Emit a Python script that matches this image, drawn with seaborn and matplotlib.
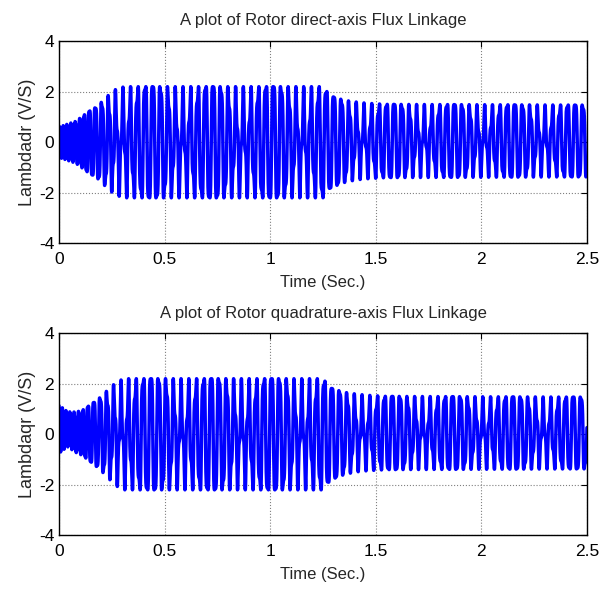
import numpy as np
import seaborn as sns
import matplotlib.pyplot as plt
from matplotlib.ticker import FormatStrFormatter

# carrier frequency read from the peak spacing (Hz)
freq_t = [0.0, 0.02, 0.05, 0.10, 0.15, 0.20, 0.27, 0.40, 2.50]
freq_hz = [64, 62, 52, 46, 36, 32, 29, 28, 28]

# envelope of the d-axis trace
amp_d_t = [0.0, 0.08, 0.14, 0.18, 0.21, 0.24, 0.27, 0.31, 1.25, 1.285, 1.315, 1.35, 1.40, 1.45, 1.55, 2.50]
amp_d = [0.60, 0.83, 1.21, 1.41, 1.66, 1.91, 2.10, 2.20, 2.20, 1.82, 1.73, 1.63, 1.55, 1.50, 1.45, 1.42]
off_d_t = [0.0, 1.25, 1.40, 2.50]
off_d = [0.0, 0.0, 0.05, 0.05]

# envelope of the q-axis trace
amp_q_t = [0.0, 0.04, 0.07, 0.11, 0.15, 0.19, 0.22, 0.25, 0.28, 0.31, 1.25, 1.285, 1.315, 1.35, 1.40, 1.45, 1.55, 2.50]
amp_q = [0.95, 0.69, 0.77, 0.89, 1.13, 1.39, 1.64, 1.89, 2.10, 2.20, 2.20, 1.82, 1.73, 1.63, 1.55, 1.50, 1.45, 1.42]
off_q_t = [0.0, 0.04, 0.08, 0.12, 0.30, 1.25, 1.40, 2.50]
off_q = [0.20, 0.20, 0.08, 0.05, 0.0, 0.0, 0.05, 0.05]

drift_hz = 1.75     # slow drift of the mid-level step
drift_t0 = 2.01

x_ticks = [0, 0.5, 1, 1.5, 2, 2.5]
y_ticks = [-4, -2, 0, 2, 4]

dt = 1e-4
t = np.arange(0, 2.5 + dt, dt)
phi = 2 * np.pi * np.cumsum(np.interp(t, freq_t, freq_hz)) * dt
psi = 2 * np.pi * drift_hz * (t - drift_t0)


def trace(amp_t, amp, off_t, off, phase0):
    p = phi + phase0
    theta = p + 0.5 * np.sin(2 * (p - psi))
    return np.interp(t, off_t, off) + np.interp(t, amp_t, amp) * np.cos(theta)


lam_d = trace(amp_d_t, amp_d, off_d_t, off_d, -np.pi / 2)
lam_q = trace(amp_q_t, amp_q, off_q_t, off_q, 0.0)

sns.set_style("white")
plt.rcParams["font.family"] = ["Liberation Sans", "DejaVu Sans"]

fig = plt.figure(figsize=(6.05, 5.89), dpi=100)
ax1 = fig.add_axes([0.0975, 0.587, 0.8727, 0.343])
ax2 = fig.add_axes([0.0975, 0.0912, 0.8727, 0.343])

panels = [
    (ax1, lam_d, "A plot of Rotor direct-axis Flux Linkage", "Lambdadr (V/S)", 12),
    (ax2, lam_q, "A plot of Rotor quadrature-axis Flux Linkage", "Lambdaqr (V/S)", 11),
]

for ax, y, title, ylab, tpad in panels:
    sns.lineplot(x=t, y=y, ax=ax, color="#0000ff", linewidth=2.5,
                 estimator=None, sort=False, errorbar=None)
    ax.set_xlim(0, 2.5)
    ax.set_ylim(-4, 4)
    ax.set_xticks(x_ticks)
    ax.set_yticks(y_ticks)
    ax.xaxis.set_major_formatter(FormatStrFormatter("%g"))
    ax.yaxis.set_major_formatter(FormatStrFormatter("%g"))
    ax.grid(True, linestyle=":", color="#808080", linewidth=0.8)
    ax.tick_params(direction="in", top=True, right=True, length=4,
                   width=0.8, labelsize=12.5, colors="black")
    ax.tick_params(axis="x", pad=6)
    for s in ax.spines.values():
        s.set_color("black")
        s.set_linewidth(1.0)
    ax.set_title(title, fontsize=12, pad=tpad)
    ax.set_xlabel("Time (Sec.)", fontsize=12, labelpad=6)
    ax.set_ylabel(ylab, fontsize=13, labelpad=2)

fig.savefig("out.png", dpi=100)
